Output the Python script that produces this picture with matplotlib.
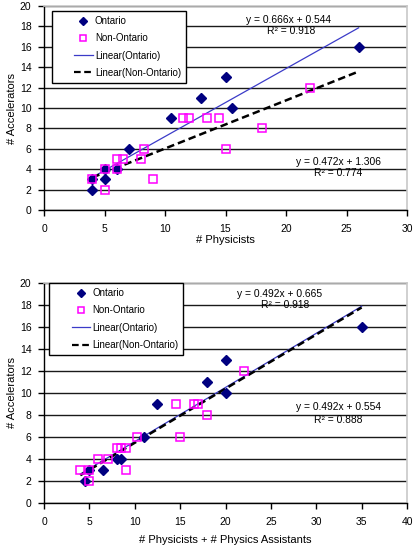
import matplotlib
matplotlib.use("Agg")
import matplotlib.pyplot as plt
from matplotlib.lines import Line2D
from matplotlib.legend_handler import HandlerLine2D
import numpy as np

plt.rcParams['font.family'] = ['Liberation Sans', 'DejaVu Sans']

# ---- Data: top chart (# Physicists) ----
top_ont_x = [4, 4, 5, 5, 6, 7, 10.5, 13, 15, 15.5, 26]
top_ont_y = [2, 3, 3, 4, 4, 6, 9, 11, 13, 10, 16]
top_non_x = [4, 5, 5, 6, 6, 6.5, 8, 8.3, 9, 11.5, 12, 13.5, 14.5, 15, 18, 22]
top_non_y = [3, 2, 4, 4, 5, 5, 5, 6, 3, 9, 9, 9, 9, 6, 8, 12]
top_fit_ont = (0.666, 0.544, 0.918)
top_fit_non = (0.472, 1.306, 0.774)
top_fit_range = (4, 26)

# ---- Data: bottom chart (# Physicists + # Physics Assistants) ----
bot_ont_x = [4.5, 5, 6.5, 8, 8.5, 11, 12.5, 18, 20, 20, 35]
bot_ont_y = [2, 3, 3, 4, 4, 6, 9, 11, 13, 10, 16]
bot_non_x = [4, 5, 5, 6, 7, 8, 8.5, 9, 9, 10.2, 14.5, 16.5, 17, 15, 18, 22]
bot_non_y = [3, 3, 2, 4, 4, 5, 5, 5, 3, 6, 9, 9, 9, 6, 8, 12]
bot_fit_ont = (0.492, 0.665, 0.918)
bot_fit_non = (0.492, 0.554, 0.888)
bot_fit_range = (4, 35)

yticks = [0, 2, 4, 6, 8, 10, 12, 14, 16, 18, 20]
top_xticks = [0, 5, 10, 15, 20, 25, 30]
bot_xticks = [0, 5, 10, 15, 20, 25, 30, 35, 40]

NAVY = '#000080'
MAG = '#FF00FF'
LINE_BLUE = '#3B3BC8'

W, H = 415, 550
fig = plt.figure(figsize=(W / 100, H / 100), dpi=100)


class RightHandler(HandlerLine2D):
    """Draw the legend handle only in the right part of the handle box."""
    def get_xdata(self, legend, xdescent, ydescent, width, height, fontsize):
        x0 = -xdescent + width * 0.48
        x1 = -xdescent + width
        xdata = np.array([x0, x1])
        xm = np.array([(x0 + x1) / 2])
        return xdata, xm


def px_axes(l, t, r, b):
    return fig.add_axes([l / W, 1 - b / H, (r - l) / W, (b - t) / H])


def ftext(x, y, s, **kw):
    fig.text(x / W, 1 - y / H, s, ha='center', va='center', fontsize=7.4, **kw)


def draw(ax, ox, oy, nx, ny, fo, fn, rng, xticks, xlabel, leg_anchor, xlabelpad):
    ax.set_xlim(xticks[0], xticks[-1])
    ax.set_ylim(0, 20)
    ax.set_xticks(xticks)
    ax.set_yticks(yticks)
    ax.yaxis.grid(True, color='#1a1a1a', lw=1.0)
    ax.set_axisbelow(True)
    for s in ['top', 'right']:
        ax.spines[s].set_color('#c8c8c8')
        ax.spines[s].set_linewidth(1.2)
    for s in ['left', 'bottom']:
        ax.spines[s].set_color('black')
        ax.spines[s].set_linewidth(1.0)
    ax.tick_params(direction='out', length=4, width=1, labelsize=7.5,
                   colors='black')
    ax.tick_params(axis='x', pad=6)
    ax.tick_params(axis='y', pad=5)
    xs = np.array(rng, dtype=float)
    ax.plot(xs, fo[0] * xs + fo[1], color=LINE_BLUE, lw=0.9, zorder=3)
    ax.plot(xs, fn[0] * xs + fn[1], color='black', lw=1.8, ls=(0, (3, 1.6)), zorder=3)
    ax.plot(ox, oy, ls='none', marker='D', ms=4.8, color=NAVY, mec=NAVY, zorder=4)
    ax.plot(nx, ny, ls='none', marker='s', ms=6, mfc='none', mec=MAG, mew=1.1, zorder=4)
    ax.set_xlabel(xlabel, fontsize=8, labelpad=xlabelpad)
    ax.set_ylabel('# Accelerators', fontsize=8, labelpad=2)
    handles = [
        Line2D([], [], ls='none', marker='D', ms=4.0, color=NAVY),
        Line2D([], [], ls='none', marker='s', ms=4.0, mfc='none', mec=MAG, mew=1.1),
        Line2D([], [], color=LINE_BLUE, lw=0.9),
        Line2D([], [], color='black', lw=1.6, ls=(0, (3, 1.6))),
    ]
    labels = ['Ontario', 'Non-Ontario', 'Linear(Ontario)', 'Linear(Non-Ontario)']
    hm = {h: RightHandler() for h in handles}
    leg = ax.legend(handles, labels, loc='upper left', bbox_to_anchor=leg_anchor,
                    fontsize=7, frameon=True, fancybox=False, framealpha=1,
                    edgecolor='black', handlelength=3.7, handletextpad=0.2,
                    labelspacing=0.75, borderpad=0.5, borderaxespad=0,
                    handler_map=hm)
    leg.get_frame().set_linewidth(1.0)
    leg.set_zorder(5)


ax1 = px_axes(44, 6, 407, 210)
draw(ax1, top_ont_x, top_ont_y, top_non_x, top_non_y, top_fit_ont, top_fit_non,
     top_fit_range, top_xticks, '# Physicists', (0.022, 0.975), 1)

ax2 = px_axes(44, 283, 407, 503)
draw(ax2, bot_ont_x, bot_ont_y, bot_non_x, bot_non_y, bot_fit_ont, bot_fit_non,
     bot_fit_range, bot_xticks, '# Physicists + # Physics Assistants', (0.015, 0.999), 6)

def eq(f):
    return 'y = %.3fx + %.3f' % (f[0], f[1]), 'R² = %.3f' % f[2]

a, b = eq(top_fit_ont)
ftext(289, 20, a); ftext(291, 31, b)
a, b = eq(top_fit_non)
ftext(338, 162, a); ftext(338, 173, b)
a, b = eq(bot_fit_ont)
ftext(280, 294, a); ftext(285, 305, b)
a, b = eq(bot_fit_non)
ftext(338, 407, a); ftext(338, 420, b)

fig.savefig('out.png', dpi=100)
